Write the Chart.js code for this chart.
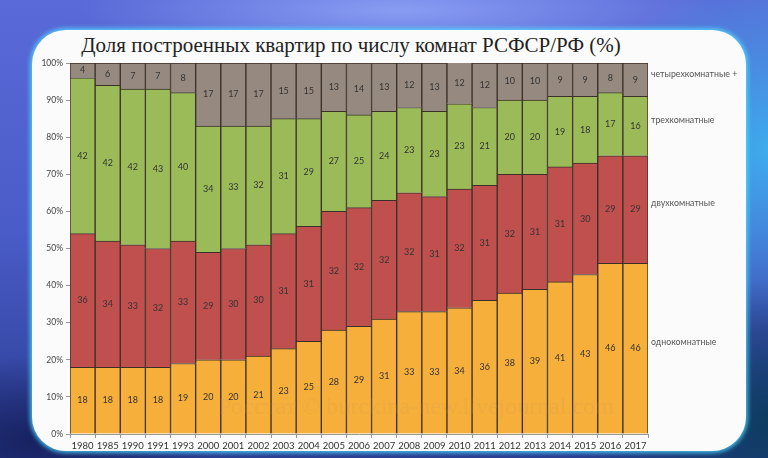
<!DOCTYPE html>
<html><head><meta charset="utf-8">
<script src="https://cdn.jsdelivr.net/npm/chart.js@4"></script>
<style>
html,body{margin:0;padding:0;width:768px;height:458px;overflow:hidden;}
body{position:relative;background:
 radial-gradient(ellipse 260px 120px at 40px 440px, rgba(20,30,90,0.9), rgba(20,30,90,0) 70%),
 radial-gradient(ellipse 300px 200px at 780px 420px, rgba(10,60,90,0.95), rgba(10,60,90,0) 70%),
 radial-gradient(ellipse 260px 260px at 770px 150px, rgba(60,180,240,0.9), rgba(60,180,240,0) 70%),
 radial-gradient(ellipse 400px 60px at 400px 10px, rgba(150,170,250,0.8), rgba(150,170,250,0) 80%),
 linear-gradient(180deg,#5a6ad8 0%,#4a5cc8 50%,#2a3c90 100%);}
#card{position:absolute;left:32px;top:30px;width:714px;height:421px;background:#fbfbfb;border-radius:34px;box-shadow:0 0 4px 2px rgba(80,220,255,0.8);}
#title{position:absolute;left:0;width:702px;top:33px;text-align:center;font-family:"Liberation Serif","DejaVu Serif",serif;font-size:21px;color:#222;white-space:nowrap;}
#wm{position:absolute;left:218px;top:393px;font-family:"Liberation Serif",serif;font-size:24px;color:rgba(200,150,90,0.18);white-space:nowrap;}
canvas{position:absolute;left:0;top:0;}
</style></head><body>
<div id="card"></div>
<div id="title">Доля построенных квартир по числу комнат РСФСР/РФ (%)</div>
<canvas id="c" width="768" height="458"></canvas>
<div id="wm">Росстат © burckina-new.livejournal.com</div>
<script>
const years = ["1980","1985","1990","1991","1993","2000","2001","2002","2003","2004","2005","2006","2007","2008","2009","2010","2011","2012","2013","2014","2015","2016","2017"];
const oneRoom   = [18,18,18,18,19,20,20,21,23,25,28,29,31,33,33,34,36,38,39,41,43,46,46];
const twoRoom   = [36,34,33,32,33,29,30,30,31,31,32,32,32,32,31,32,31,32,31,31,30,29,29];
const threeRoom = [42,42,42,43,40,34,33,32,31,29,27,25,24,23,23,23,21,20,20,19,18,17,16];
const fourRoom  = [4,6,7,7,8,17,17,17,15,15,13,14,13,12,13,12,12,10,10,9,9,8,9];
const seriesNames = ["однокомнатные","двухкомнатные","трехкомнатные","четырехкомнатные +"];
const yTicks = [0,10,20,30,40,50,60,70,80,90,100];

const colors = ["#F6AF3A","#C0504D","#9BBB59","#968A80"];
const FONT = "Lato, 'Open Sans', sans-serif";

const labelPlugin = {
  id:'labels',
  afterDatasetsDraw(chart){
    const ctx = chart.ctx;
    ctx.save();
    ctx.textBaseline = 'middle';
    chart.data.datasets.forEach((ds,i)=>{
      const meta = chart.getDatasetMeta(i);
      ctx.font = "9px " + FONT;
      ctx.textAlign = 'center';
      ctx.fillStyle = '#333';
      meta.data.forEach((el,j)=>{
        const top = Math.max(el.y, chart.chartArea.top);
        ctx.fillText(String(ds.data[j]), el.x, (top+el.base)/2);
      });
      const last = meta.data[meta.data.length-1];
      const t = Math.max(last.y, chart.chartArea.top);
      ctx.textAlign = 'left';
      ctx.fillStyle = '#555';
      ctx.font = "8.8px " + FONT;
      ctx.fillText(seriesNames[i], chart.chartArea.right + 3, (t+last.base)/2 - 6);
    });
    ctx.restore();
  }
};

new Chart(document.getElementById('c'),{
  type:'bar',
  data:{labels:years,datasets:[
    {label:seriesNames[0],data:oneRoom,backgroundColor:colors[0]},
    {label:seriesNames[1],data:twoRoom,backgroundColor:colors[1]},
    {label:seriesNames[2],data:threeRoom,backgroundColor:colors[2]},
    {label:seriesNames[3],data:fourRoom,backgroundColor:colors[3]}
  ].map(d=>Object.assign(d,{borderColor:'#3a3028',borderWidth:1,barPercentage:1,categoryPercentage:1}))},
  options:{
    responsive:false,animation:false,
    layout:{padding:{left:0,right:120,top:63,bottom:0}},
    plugins:{legend:{display:false},title:{display:false},tooltip:{enabled:false}},
    scales:{
      x:{stacked:true,
        grid:{display:true,drawOnChartArea:false,drawTicks:true,tickLength:4,offset:true,color:'#999'},
        border:{color:'#999'},
        ticks:{font:{family:FONT,size:9.5},color:'#333',padding:2,maxRotation:0,autoSkip:false},
        afterFit(s){s.height=24;}
      },
      y:{stacked:true,min:0,max:100,
        afterBuildTicks(s){s.ticks=yTicks.map(v=>({value:v}));},
        grid:{display:true,drawOnChartArea:false,drawTicks:true,tickLength:4,color:'#999'},
        border:{color:'#999'},
        ticks:{font:{family:FONT,size:8.5},color:'#444',padding:3,callback:v=>v+'%'},
        afterFit(s){s.width=70;}
      }
    }
  },
  plugins:[labelPlugin]
});
</script>
</body></html>
